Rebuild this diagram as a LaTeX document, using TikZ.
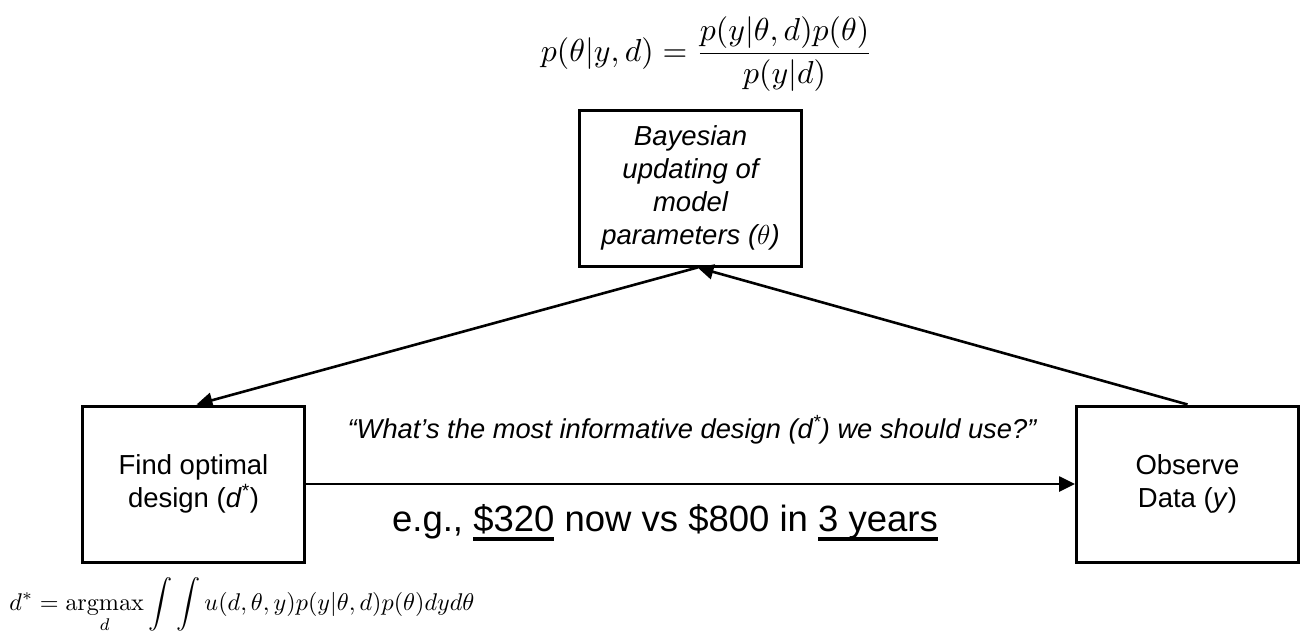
\RequirePackage{fix-cm}
\documentclass[tikz,border=0pt]{standalone}
\usepackage{amsmath}
\usepackage{graphicx}
\usepackage[no-math]{fontspec}
\setmainfont{Liberation Sans}
\usetikzlibrary{arrows.meta}
\newcommand\myundl[1]{\setbox0\hbox{#1}\rlap{\rule[-9.5pt]{\wd0}{3.2pt}}\box0\relax}
\begin{document}
\begin{tikzpicture}[x=1pt,y=-1pt,
  box/.style={draw,line width=3pt,minimum width=222pt,minimum height=156pt,inner sep=0pt,align=center,font=\fontsize{27.5}{33}\selectfont},
  conn/.style={line width=2.6pt,-{Triangle[length=16pt,width=15pt]}},
  eqn/.style={inner sep=0pt}]
\useasboundingbox (0,0) rectangle (1306,637);
\node[box,font=\fontsize{27.5}{33}\selectfont\itshape] (T) at (690.5,188) {Bayesian\\updating of\\model\\parameters ($\theta$)};
\node[box] (L) at (193.5,484) {Find optimal\\design (\textit{d}\textsuperscript{*})};
\node[box] (R) at (1187.5,484) {Observe\\Data (\textit{y})};
\node[eqn] (P) at (707,54) {\resizebox{332pt}{!}{$\displaystyle p(\theta|y,d)=\frac{p(y|\theta,d)p(\theta)}{p(y|d)}$}};
\node[eqn] (U) at (242,605) {\resizebox{465pt}{!}{$\displaystyle d^*=\operatorname*{argmax}_d\int\int u(d,\theta,y)p(y|\theta,d)p(\theta)dyd\theta$}};
\node[inner sep=0pt,anchor=base,font=\fontsize{27.3}{32}\selectfont\itshape] (Q) at (692,438) {“What’s the most informative design (d\textsuperscript{*}) we should use?”};
\node[inner sep=0pt,anchor=base,font=\fontsize{36.5}{42}\selectfont] (E) at (665,531) {e.g., \myundl{\$320} now vs \$800 in \myundl{3 years}};
\draw[conn] ([xshift=7pt]T.south) -- ([xshift=3pt]L.north);
\draw[conn] (R.north) -- ([xshift=7pt]T.south);
\draw[conn] (L.east) -- (R.west);
\end{tikzpicture}
\end{document}
